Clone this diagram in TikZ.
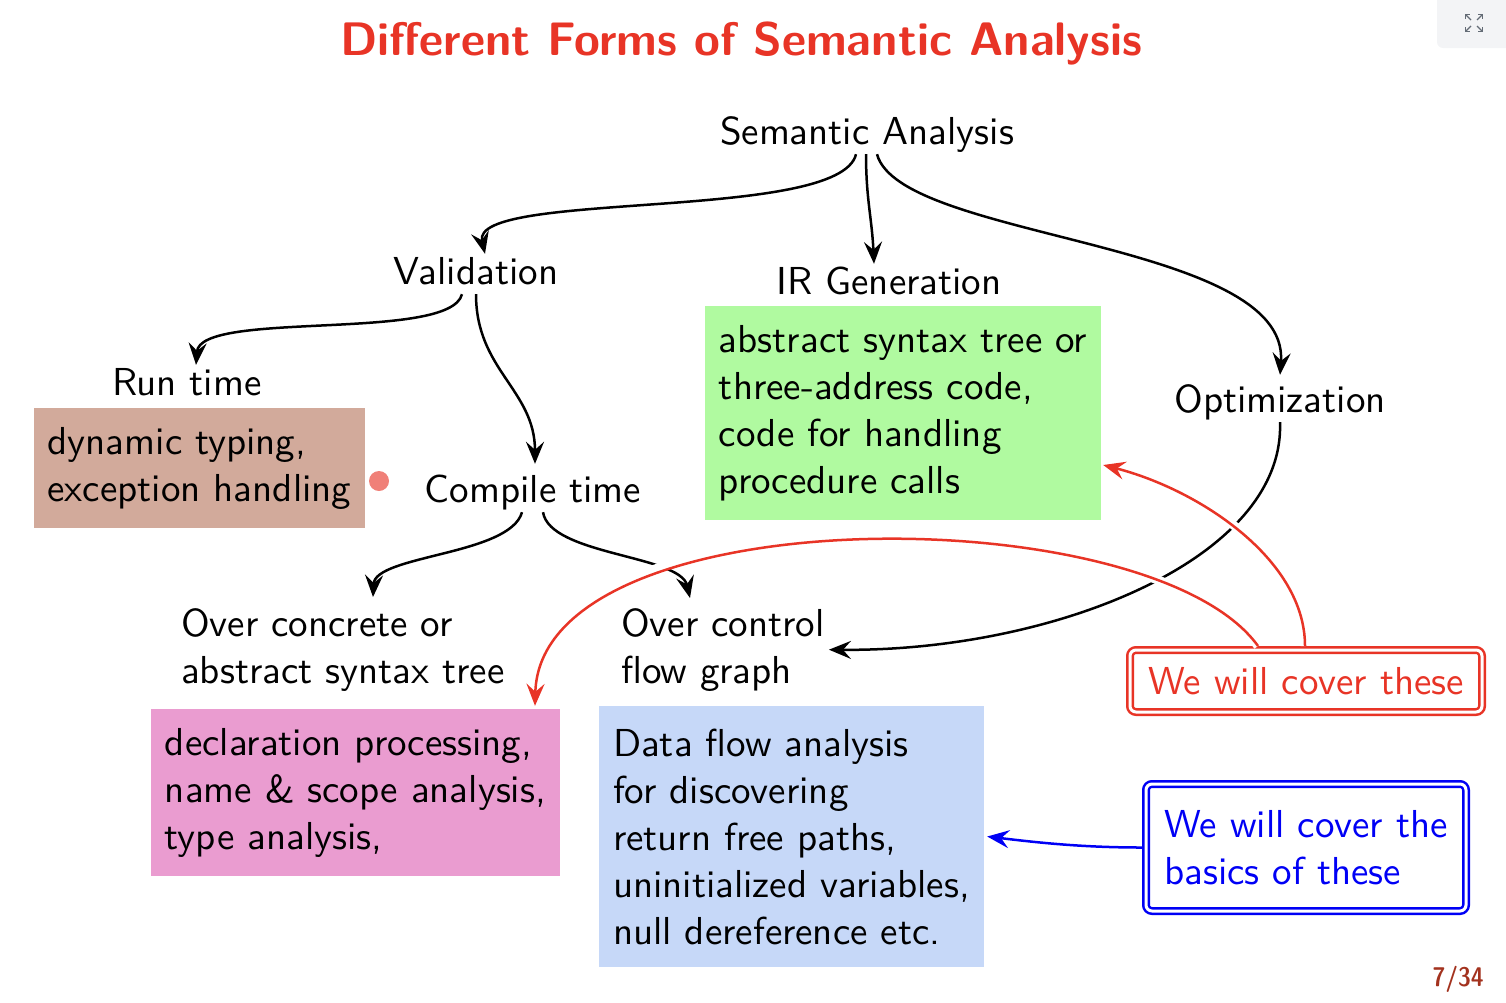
\documentclass[tikz,border=0pt]{standalone}
\usepackage{fontspec}
\newfontfamily\lmsten{lmsans10-regular}[Extension=.otf]
\newfontfamily\lmsbf{lmsans10-bold}[Extension=.otf]
\newfontfamily\lmsdc{lmsansdemicond10-regular}[Extension=.otf]
\usetikzlibrary{arrows.meta}
\definecolor{tred}{RGB}{232,52,38}
\definecolor{gbox}{RGB}{176,250,160}
\definecolor{bbox}{RGB}{210,170,155}
\definecolor{pbox}{RGB}{234,156,208}
\definecolor{lbox}{RGB}{198,216,248}
\definecolor{dotc}{RGB}{240,128,120}
\definecolor{bblue}{RGB}{0,0,245}
\definecolor{pnum}{RGB}{163,50,30}
\definecolor{iconbg}{RGB}{243,244,246}
\definecolor{icong}{RGB}{100,108,118}
\newcommand\bodyfont{\lmsten\fontsize{39}{47}\selectfont}
\begin{document}
\begin{tikzpicture}[x=1pt,y=-1pt,
  lbl/.style={font=\bodyfont, inner sep=2pt, text height=28pt, text depth=8pt, anchor=base},
  two/.style={font=\bodyfont, inner sep=0pt, align=left, anchor=north west},
  cbox/.style={font=\bodyfont, inner sep=0pt, align=left},
  arr/.style={line width=2.5pt, -{Stealth[length=22pt,width=18pt,inset=8pt]}},
  rarr/.style={arr, draw=tred},
  barr/.style={arr, draw=bblue},
  halo/.style={preaction={draw=white, line width=9pt, arrows=-, shorten >=25pt}},
  dbl/.style={double=white, double distance=3pt, line width=2.5pt, rounded corners=6pt, outer sep=0pt, inner sep=0pt, font=\bodyfont}
]
\useasboundingbox (0,0) rectangle (1506,1002);
% top-right icon
\fill[iconbg, rounded corners=6pt] (1437,-20) rectangle (1530,48);
\begin{scope}[icong, line width=1.3pt, -{Straight Barb[length=3pt,width=6pt]}]
\draw (1471,20) -- (1465,14);
\draw (1477,20) -- (1483,14);
\draw (1471,26) -- (1465,32);
\draw (1477,26) -- (1483,32);
\end{scope}
% title
\node[font=\lmsbf\fontsize{47}{56}\selectfont, text=tred, anchor=base, inner sep=0pt] (title) at (741,55) {Different Forms of Semantic Analysis};
% labels
\node[lbl] (sa) at (867,144) {Semantic Analysis};
\node[lbl] (val) at (476,284) {Validation};
\node[lbl] (irg) at (889,294) {IR Generation};
\node[lbl] (opt) at (1280,412) {Optimization};
\node[lbl] (run) at (187,395) {Run time};
\node[lbl] (ct) at (533,502) {Compile time};
\node[two] (oc) at (181,608) {Over concrete or\\abstract syntax tree};
\node[two] (ocf) at (621,608) {Over control\\flow graph};
% boxes
\node[cbox, fill=gbox, minimum width=396pt, minimum height=214pt] (gb) at (903,413) {abstract syntax tree or\\three-address code,\\code for handling\\procedure calls};
\node[cbox, fill=bbox, minimum width=331pt, minimum height=120pt] (rb) at (199.5,468) {dynamic typing,\\exception handling};
\node[cbox, fill=pbox, minimum width=409pt, minimum height=167pt] (dp) at (355.5,792.5) {declaration processing,\\name \& scope analysis,\\type analysis,};
\node[cbox, fill=lbox, minimum width=385pt, minimum height=261pt] (dfa) at (791.5,836.5) {Data flow analysis\\for discovering\\return free paths,\\uninitialized variables,\\null dereference etc.};
\node[circle, fill=dotc, minimum size=20pt, inner sep=0pt] (dot) at (379,481) {};
% black edges
\draw[arr] ([xshift=-11pt]sa.south) .. controls +(-16,68) and +(-15,-64) .. ([xshift=9pt]val.north);
\draw[arr] ([xshift=-1pt]sa.south) .. controls +(0,45) and +(-2,-45) .. ([xshift=-15pt]irg.north);
\draw[arr] ([xshift=10pt]sa.south) .. controls +(23,86) and +(10,-135) .. ([yshift=7pt]opt.north);
\draw[arr] ([xshift=-14pt]val.south) .. controls +(-12,48) and +(4,-55) .. ([xshift=9pt]run.north);
\draw[arr] (val.south) .. controls +(0,76) and +(0,-74) .. ([xshift=2pt,yshift=8pt]ct.north);
\draw[arr] ([xshift=-11pt]ct.south) .. controls +(-12,43) and +(2,-42) .. ([xshift=192pt,yshift=11pt]oc.north west);
\draw[arr] ([xshift=10pt]ct.south) .. controls +(7,43) and +(-10,-43) .. ([xshift=69pt,yshift=10pt]ocf.north west);
\draw[arr] (opt.south) .. controls +(5,138) and +(222,2) .. ([xshift=4pt]ocf.east);
% callout boxes
\node[dbl, draw=tred, text=tred, minimum width=352pt, minimum height=62pt] (rw) at (1306,681) {We will cover these};
\node[dbl, draw=bblue, text=bblue, align=left, minimum width=320pt, minimum height=127pt] (bw) at (1306,847.5) {We will cover the\\basics of these};
% red and blue edges
\draw[rarr, halo] ([xshift=-48pt,yshift=4pt]rw.north) .. controls +(-108,-150) and +(5,-210) .. ([xshift=179.5pt,yshift=3pt]dp.north);
\draw[rarr, halo] ([xshift=-1pt,yshift=4pt]rw.north) .. controls +(0,-86) and +(97,25) .. ([xshift=2pt,yshift=-52pt]gb.east);
\draw[barr] ([xshift=-4pt]bw.west) .. controls +(-60,0) and +(50,6) .. ([xshift=3pt]dfa.east);
% page number
\node[font=\lmsdc\fontsize{27}{33}\selectfont, text=pnum, anchor=base east, inner sep=0pt] (pg) at (1484,986) {7/34};
\end{tikzpicture}
\end{document}
